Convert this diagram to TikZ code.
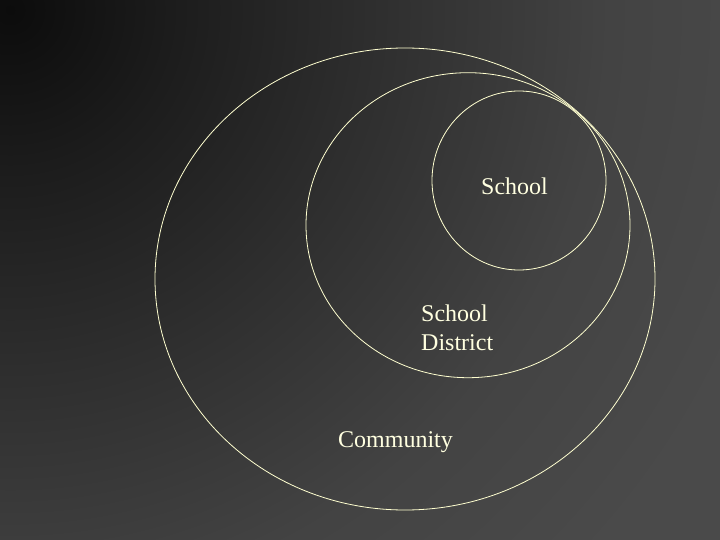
\documentclass[tikz,border=0pt]{standalone}
\usepackage{fontspec}
\setmainfont{Liberation Serif}
\definecolor{lineyel}{HTML}{FFFFD0}
\definecolor{txtyel}{HTML}{FFFFE0}
\definecolor{bgA}{HTML}{0C0C0C}
\definecolor{bgB}{HTML}{1C1C1C}
\definecolor{bgC}{HTML}{2E2E2E}
\definecolor{bgD}{HTML}{434343}
\definecolor{bgE}{HTML}{4A4A4A}
\pgfdeclareradialshading{bgshade}{\pgfpoint{0bp}{0bp}}{color(0bp)=(bgA); color(4bp)=(bgB); color(9bp)=(bgC); color(15bp)=(bgD); color(20bp)=(bgE); color(50bp)=(bgE)}
\tikzset{
  ring/.style={draw=lineyel, line width=0.8pt},
  lbl/.style={text=txtyel, inner sep=0pt, font=\fontsize{24}{29}\selectfont}
}
\begin{document}
\begin{tikzpicture}[x=1pt,y=-1pt]
\useasboundingbox (0,0) rectangle (720,540);
\begin{scope}
  \clip (0,0) rectangle (720,540);
  \shade[shading=bgshade] (10,10) circle (1000);
\end{scope}
\draw[ring] (405,279) ellipse [x radius=250, y radius=231];
\draw[ring] (468,225.2) ellipse [x radius=162, y radius=152.5];
\draw[ring] (519,180.5) ellipse [x radius=87, y radius=89.5];
\node[lbl, anchor=base west] (school) at (481,195) {School};
\node[lbl, anchor=base west, align=left] (district) at (421,350) {School\\District};
\node[lbl, anchor=base west] (community) at (338,447) {Community};
\end{tikzpicture}
\end{document}
